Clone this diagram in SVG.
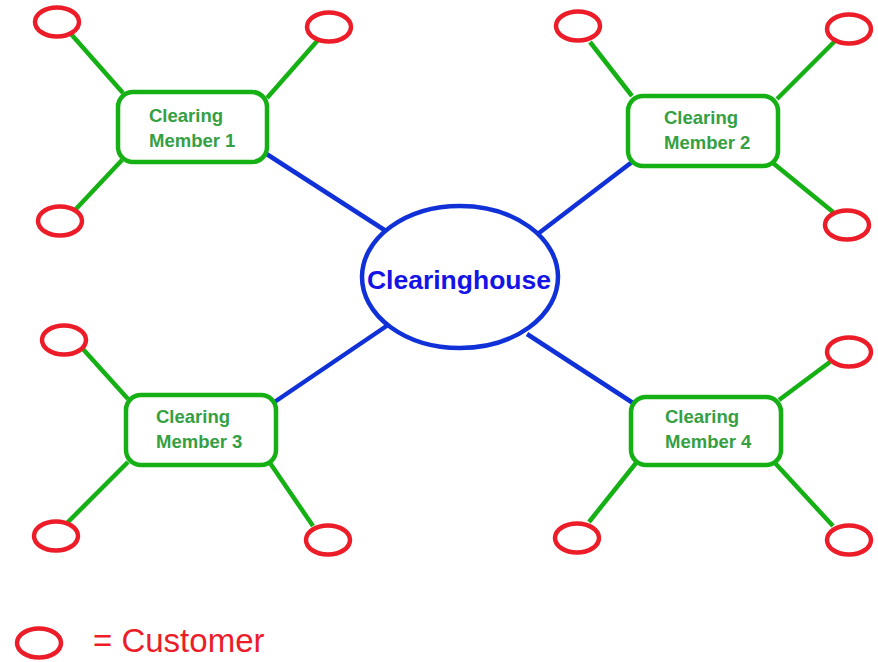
<svg xmlns="http://www.w3.org/2000/svg" width="878" height="662" viewBox="0 0 878 662">
  <style>
    .cust { fill: none; stroke: #ec1c28; stroke-width: 4.5; }
    .member rect { fill: #ffffff; stroke: #14b014; stroke-width: 4.5; }
    .member text { font-family: "Liberation Sans", Arial, sans-serif; font-weight: bold; font-size: 18.5px; fill: #34a042; }
    .leg { stroke: #14b014; stroke-width: 4.5; stroke-linecap: butt; }
    .link { stroke: #1030d8; stroke-width: 4.5; }
    .hub ellipse { fill: #ffffff; stroke: #1030d8; stroke-width: 4.5; }
    .hub text { font-family: "Liberation Sans", Arial, sans-serif; font-weight: bold; font-size: 26.5px; fill: #1414e6; }
    .legend text { font-family: "Liberation Sans", Arial, sans-serif; font-size: 33px; fill: #ec1c28; }
  </style>

  <!-- connectors -->
  <g id="connectors">
    <!-- member to clearinghouse -->
    <line class="link" x1="265" y1="153" x2="386" y2="231"/>
    <line class="link" x1="632" y1="162" x2="539" y2="233"/>
    <line class="link" x1="273" y1="403" x2="388" y2="325"/>
    <line class="link" x1="633" y1="403" x2="527" y2="334"/>
    <!-- member 1 customers -->
    <line class="leg" x1="71" y1="34" x2="123" y2="93"/>
    <line class="leg" x1="318" y1="40" x2="267" y2="98"/>
    <line class="leg" x1="75" y1="210" x2="122" y2="160"/>
    <!-- member 2 customers -->
    <line class="leg" x1="590" y1="42" x2="632" y2="96"/>
    <line class="leg" x1="835" y1="41" x2="777" y2="99"/>
    <line class="leg" x1="833" y1="212" x2="773" y2="163"/>
    <!-- member 3 customers -->
    <line class="leg" x1="82" y1="348" x2="128" y2="399"/>
    <line class="leg" x1="67" y1="523" x2="128" y2="462"/>
    <line class="leg" x1="313" y1="526" x2="270" y2="463"/>
    <!-- member 4 customers -->
    <line class="leg" x1="830" y1="362" x2="779" y2="400"/>
    <line class="leg" x1="589" y1="522" x2="636" y2="463"/>
    <line class="leg" x1="833" y1="526" x2="775" y2="463"/>
  </g>

  <!-- clearinghouse -->
  <g id="clearinghouse" class="hub">
    <ellipse cx="460" cy="277" rx="98" ry="71"/>
    <text x="459" y="289" text-anchor="middle">Clearinghouse</text>
  </g>

  <!-- clearing members -->
  <g id="member1" class="member">
    <rect x="118" y="92" width="149" height="70" rx="15"/>
    <text x="149" y="122">Clearing</text>
    <text x="149" y="147">Member 1</text>
  </g>
  <g id="member2" class="member">
    <rect x="628" y="96" width="150" height="70" rx="15"/>
    <text x="664" y="124">Clearing</text>
    <text x="664" y="149">Member 2</text>
  </g>
  <g id="member3" class="member">
    <rect x="126" y="395" width="150" height="70" rx="15"/>
    <text x="156" y="423">Clearing</text>
    <text x="156" y="448">Member 3</text>
  </g>
  <g id="member4" class="member">
    <rect x="631" y="397" width="150" height="68" rx="15"/>
    <text x="665" y="423">Clearing</text>
    <text x="665" y="448">Member 4</text>
  </g>

  <!-- customers -->
  <g id="customer1a"><ellipse class="cust" cx="57" cy="22" rx="22" ry="14.5"/></g>
  <g id="customer1b"><ellipse class="cust" cx="329" cy="27" rx="22" ry="14.5"/></g>
  <g id="customer1c"><ellipse class="cust" cx="60" cy="221" rx="22" ry="14.5"/></g>
  <g id="customer2a"><ellipse class="cust" cx="578" cy="26" rx="22" ry="14.5"/></g>
  <g id="customer2b"><ellipse class="cust" cx="849" cy="29" rx="22" ry="14.5"/></g>
  <g id="customer2c"><ellipse class="cust" cx="847" cy="225" rx="22" ry="14.5"/></g>
  <g id="customer3a"><ellipse class="cust" cx="64" cy="340" rx="22" ry="14.5"/></g>
  <g id="customer3b"><ellipse class="cust" cx="56" cy="536" rx="22" ry="14.5"/></g>
  <g id="customer3c"><ellipse class="cust" cx="328" cy="540" rx="22" ry="14.5"/></g>
  <g id="customer4a"><ellipse class="cust" cx="849" cy="352" rx="22" ry="14.5"/></g>
  <g id="customer4b"><ellipse class="cust" cx="577" cy="538" rx="22" ry="14.5"/></g>
  <g id="customer4c"><ellipse class="cust" cx="849" cy="540" rx="22" ry="14.5"/></g>

  <!-- legend -->
  <g id="legend" class="legend">
    <ellipse class="cust" cx="39" cy="643" rx="22" ry="14.5"/>
    <text x="93" y="652">= Customer</text>
  </g>
</svg>
